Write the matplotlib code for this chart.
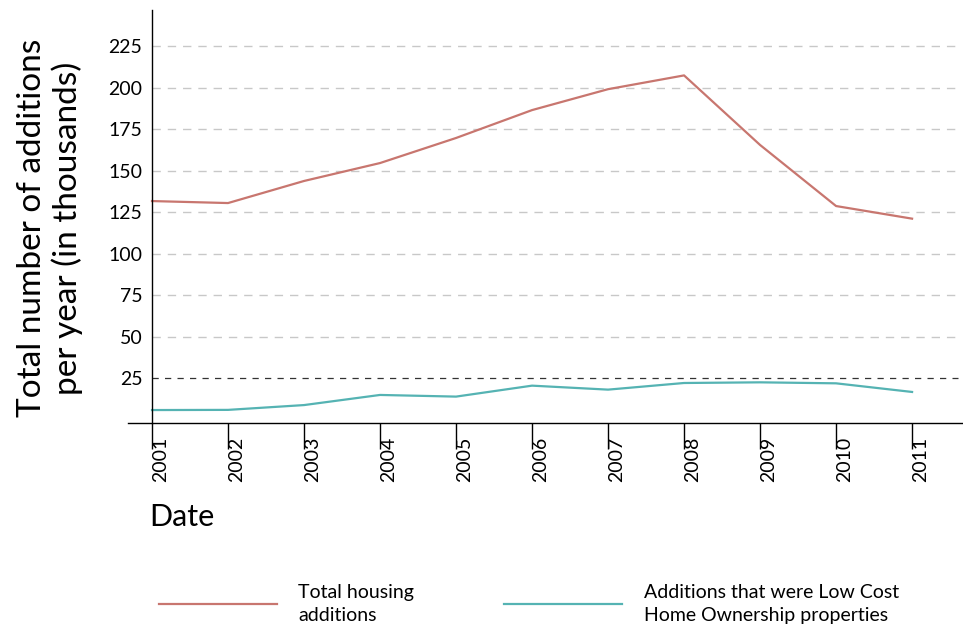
import matplotlib
matplotlib.use("Agg")
import matplotlib.pyplot as plt

# data (thousands)
years = [2001, 2002, 2003, 2004, 2005, 2006, 2007, 2008, 2009, 2010, 2011]
total_additions = [131.6, 130.4, 143.7, 154.5, 169.6, 186.4, 199.0, 207.3, 165.4, 128.6, 121.0]
lcho_additions = [5.7, 5.8, 8.7, 14.8, 13.8, 20.4, 18.0, 22.0, 22.4, 21.8, 16.6]
ytick_vals = [25, 50, 75, 100, 125, 150, 175, 200, 225]

label_total = "Total housing\nadditions"
label_lcho = "Additions that were Low Cost\nHome Ownership properties"

red = "#c8766f"
teal = "#55b3b3"

plt.rcParams['font.family'] = ['Lato', 'DejaVu Sans']

fig = plt.figure(figsize=(9.63, 6.33), dpi=100)
ax = fig.add_axes([128 / 963, (633 - 423) / 633, 835 / 963, 413 / 633])

ax.plot(years, total_additions, color=red, lw=1.6, label=label_total)
ax.plot(years, lcho_additions, color=teal, lw=1.6, label=label_lcho)

ax.set_xlim(2000.684, 2011.67)
ax.set_ylim(-2.1, 246.7)

# gridlines (the 25 line is darker)
for v in ytick_vals:
    if v == 25:
        ax.hlines(v, 2001, 2011.6, colors="#333333", lw=0.9, linestyles=(0, (5, 5)), zorder=0)
    else:
        ax.hlines(v, 2001, 2011.6, colors="#c8c8c8", lw=1.0, linestyles=(0, (6, 5)), zorder=0)

ax.spines['top'].set_visible(False)
ax.spines['right'].set_visible(False)
ax.spines['left'].set_position(('data', 2001))
ax.spines['left'].set_linewidth(1.0)
ax.spines['bottom'].set_linewidth(1.0)

ax.set_yticks(ytick_vals)
ax.set_yticklabels([str(v) for v in ytick_vals], fontsize=14)
ax.tick_params(axis='y', length=0, pad=7)

ax.set_xticks(years)
ax.set_xticklabels([str(y) for y in years], rotation=90, fontsize=14, ha='left', va='top')
ax.tick_params(axis='x', direction='out', length=18.5, width=1.0, pad=-8.6)

ax.text(0.026, -0.228, "Date", transform=ax.transAxes, fontsize=22, va='center', ha='left')
fig.text(0.052, (633 - 228) / 633, "Total number of additions\nper year (in thousands)",
         rotation=90, fontsize=24, ha='center', va='center', linespacing=1.15)

leg = fig.legend(loc='center left', bbox_to_anchor=(141 / 963, 1 - 604 / 633), ncol=2,
                 frameon=False, fontsize=14, handlelength=6.1, handletextpad=1.1,
                 columnspacing=4.6, labelspacing=0.2)
for t in leg.get_texts():
    t.set_linespacing(1.45)

fig.savefig("out.png", dpi=100)
